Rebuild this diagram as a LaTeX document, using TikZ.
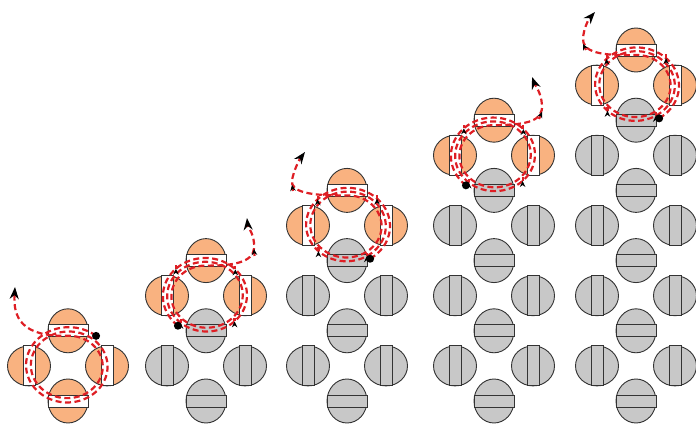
\documentclass[tikz,border=0pt]{standalone}
\usetikzlibrary{shapes.geometric,arrows.meta}

\definecolor{ringorange}{RGB}{249,178,128}
\definecolor{stackgray}{RGB}{200,200,200}
\definecolor{pathred}{RGB}{222,30,36}

\def\yB{401}
\def\hS{35.1}
\def\dX{39}

\tikzset{
  hdisc/.style={ellipse, draw=black!80, line width=0.9pt, inner sep=0pt,
                minimum width=40pt, minimum height=44pt},
  vdisc/.style={ellipse, draw=black!80, line width=0.9pt, inner sep=0pt,
                minimum width=43pt, minimum height=40pt},
  hband/.style={rectangle, draw=black!80, line width=0.9pt, inner sep=0pt,
                minimum width=40pt, minimum height=12pt},
  vband/.style={rectangle, draw=black!80, line width=0.9pt, inner sep=0pt,
                minimum width=12pt, minimum height=40pt},
  loopline/.style={draw=pathred, line width=2.2pt, dash pattern=on 6pt off 3.5pt,
                   -{Stealth[color=black, length=12pt, width=9pt]}},
  midtip/.style={draw=pathred, line width=2.2pt,
                 -{Stealth[color=black, length=6pt, width=5.5pt]}},
  spin/.style={circle, fill=black, inner sep=0pt, minimum size=8pt}
}

\newcommand{\hdiscat}[4]{\node[hdisc, fill=#3] (#1) at #2 {}; \node[hband, fill=#4] (#1b) at (#1) {};}
\newcommand{\vdiscat}[4]{\node[vdisc, fill=#3] (#1) at #2 {}; \node[vband, fill=#4] (#1b) at (#1) {};}

\begin{document}
\begin{tikzpicture}[x=1pt, y=-1pt]
  \useasboundingbox (0,0) rectangle (696,427);

  %% first column: one ring, all orange
  \hdiscat{o1-t}{(68,{\yB-2*\hS})}{ringorange}{white}
  \vdiscat{o1-l}{({68-\dX},{\yB-\hS})}{ringorange}{white}
  \vdiscat{o1-r}{({68+\dX},{\yB-\hS})}{ringorange}{white}
  \hdiscat{o1-b}{(68,\yB)}{ringorange}{white}

  %% the other columns: gray stack with a ring on top
  \foreach \k/\cx in {2/206, 3/347, 4/494, 5/636}{
    \pgfmathtruncatemacro{\kk}{\k-2}
    \foreach \j in {0,...,\kk}{
      \hdiscat{g\k-c\j}{(\cx,{\yB-2*\j*\hS})}{stackgray}{stackgray}
      \vdiscat{g\k-l\j}{({\cx-\dX},{\yB-(2*\j+1)*\hS})}{stackgray}{stackgray}
      \vdiscat{g\k-r\j}{({\cx+\dX},{\yB-(2*\j+1)*\hS})}{stackgray}{stackgray}
    }
    \hdiscat{o\k-b}{(\cx,{\yB-(2*\k-2)*\hS})}{stackgray}{stackgray}
    \vdiscat{o\k-l}{({\cx-\dX},{\yB-(2*\k-1)*\hS})}{ringorange}{white}
    \vdiscat{o\k-r}{({\cx+\dX},{\yB-(2*\k-1)*\hS})}{ringorange}{white}
    \hdiscat{o\k-t}{(\cx,{\yB-2*\k*\hS})}{ringorange}{white}
  }

  %% free ends of the paths
  \coordinate (tip1) at (15,287);
  \coordinate (tip2) at (247,218);
  \coordinate (tip3) at (305,152);
  \coordinate (tip4) at (532,77);
  \coordinate (tip5) at (595,12);

  %% paths round the rings
  \draw[loopline] plot[domain=-50:-810, samples=200, smooth, variable=\t]
      ({68+39*(1.12+0.26*(\t+50)/760)*cos(\t)}, {365.9+35*(1.12+0.26*(\t+50)/760)*sin(\t)})
      .. controls (22,337) and (13,318) .. (tip1);
  \draw[loopline] plot[domain=130:990, samples=200, smooth, variable=\t]
      ({206+39*(1.12-0.26*(\t-130)/860)*cos(\t)}, {295.7+35*(1.12-0.26*(\t-130)/860)*sin(\t)})
      .. controls (245,266) and (256,258) .. (254,243)
      .. controls (253,232) and (248,228) .. (tip2);
  \draw[loopline] plot[domain=58:-810, samples=200, smooth, variable=\t]
      ({347+39*(1.12+0.26*(\t-58)/868)*cos(\t)}, {225.5+35*(1.12+0.26*(\t-58)/868)*sin(\t)})
      .. controls (310,196) and (290,192) .. (292,180)
      .. controls (294,170) and (299,160) .. (tip3);
  \draw[loopline] plot[domain=130:990, samples=200, smooth, variable=\t]
      ({494+39*(1.12-0.26*(\t-130)/860)*cos(\t)}, {155.3+35*(1.12-0.26*(\t-130)/860)*sin(\t)})
      .. controls (530,125) and (543,120) .. (542,105)
      .. controls (541,92) and (535,85) .. (tip4);
  \draw[loopline] plot[domain=58:-810, samples=200, smooth, variable=\t]
      ({636+39*(1.12+0.26*(\t-58)/868)*cos(\t)}, {85.1+35*(1.12+0.26*(\t-58)/868)*sin(\t)})
      .. controls (600,56) and (582,52) .. (583,38)
      .. controls (584,28) and (588,20) .. (tip5);

  %% small arrow heads along the rings
  \foreach \cx/\cy in {206/295.7, 494/155.3}
    \foreach \t [evaluate=\t as \s using \t-8] in {225,315,405,490}
      \draw[midtip] ({\cx+39*(1.12-0.26*(\s-130)/860)*cos(\s)}, {\cy+35*(1.12-0.26*(\s-130)/860)*sin(\s)})
                 -- ({\cx+39*(1.12-0.26*(\t-130)/860)*cos(\t)}, {\cy+35*(1.12-0.26*(\t-130)/860)*sin(\t)});
  \foreach \cx/\cy in {347/225.5, 636/85.1}
    \foreach \t [evaluate=\t as \s using \t+8] in {-45,-135,-225,-300}
      \draw[midtip] ({\cx+39*(1.12+0.26*(\s-58)/868)*cos(\s)}, {\cy+35*(1.12+0.26*(\s-58)/868)*sin(\s)})
                 -- ({\cx+39*(1.12+0.26*(\t-58)/868)*cos(\t)}, {\cy+35*(1.12+0.26*(\t-58)/868)*sin(\t)});
  \draw[midtip] (254.5,256) -- (254,249);
  \draw[midtip] (293,191) -- (292,185);
  \draw[midtip] (539,119) -- (542,112);
  \draw[midtip] (586,50) -- (583,44);

  %% start points
  \node[spin] (d1) at ({68+43.68*cos(-50)},{365.9+39.2*sin(-50)}) {};
  \node[spin] (d2) at ({206+43.68*cos(130)},{295.7+39.2*sin(130)}) {};
  \node[spin] (d3) at ({347+43.68*cos(58)},{225.5+39.2*sin(58)}) {};
  \node[spin] (d4) at ({494+43.68*cos(130)},{155.3+39.2*sin(130)}) {};
  \node[spin] (d5) at ({636+43.68*cos(58)},{85.1+39.2*sin(58)}) {};
\end{tikzpicture}
\end{document}
